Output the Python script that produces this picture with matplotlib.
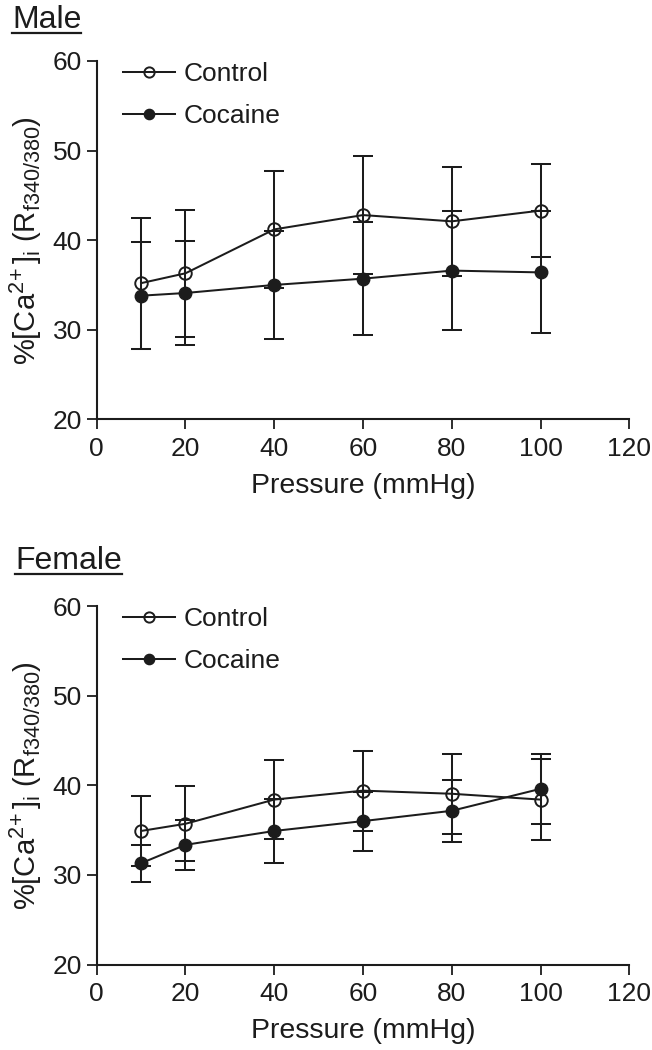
import matplotlib
matplotlib.use("Agg")
import matplotlib.pyplot as plt
from matplotlib.lines import Line2D
try:
    import matplotlib._mathtext as _mt
    _mt.SHRINK_FACTOR = 0.74
except Exception:
    pass

plt.rcParams['font.family'] = ['Liberation Sans', 'DejaVu Sans']
plt.rcParams['mathtext.fontset'] = 'custom'
plt.rcParams['mathtext.rm'] = 'Liberation Sans'
plt.rcParams['mathtext.it'] = 'Liberation Sans'
plt.rcParams['mathtext.default'] = 'regular'

INK = '#1c1c1c'

pressure = [10, 20, 40, 60, 80, 100]

male_control = [35.2, 36.3, 41.2, 42.8, 42.1, 43.3]
male_control_err = [7.3, 7.1, 6.5, 6.6, 6.1, 5.2]
male_cocaine = [33.8, 34.1, 35.0, 35.7, 36.6, 36.4]
male_cocaine_err = [5.95, 5.8, 6.0, 6.3, 6.6, 6.8]

female_control = [34.9, 35.7, 38.4, 39.4, 39.05, 38.4]
female_control_err = [3.9, 4.2, 4.4, 4.45, 4.45, 4.5]
female_cocaine = [31.3, 33.35, 34.9, 36.0, 37.15, 39.6]
female_cocaine_err = [2.05, 2.8, 3.6, 3.3, 3.45, 3.9]

xticks = [0, 20, 40, 60, 80, 100, 120]
yticks = [20, 30, 40, 50, 60]
ylabel = r'%[Ca$^{2\!+}$]$_{i}$ (R$_{f340/380}$)'
xlabel = 'Pressure (mmHg)'
panels = [
    ('Male', male_control, male_control_err, male_cocaine, male_cocaine_err),
    ('Female', female_control, female_control_err, female_cocaine, female_cocaine_err),
]

W, H = 652, 1050
fig = plt.figure(figsize=(W / 100, H / 100), dpi=100)

ax_rects = [
    [96.7 / W, 1 - 419.3 / H, 532.6 / W, 358.3 / H],
    [96.7 / W, 1 - 964.5 / H, 532.6 / W, 358.5 / H],
]
title_pos = [(12 / W, 1 - 28 / H), (15 / W, 1 - 569 / H)]

lw = 1.45
for (name, ctrl, ctrl_e, coc, coc_e), rect, tpos in zip(panels, ax_rects, title_pos):
    ax = fig.add_axes(rect)
    ax.errorbar(pressure, ctrl, yerr=ctrl_e, fmt='none', ecolor=INK,
                elinewidth=lw, capsize=7, capthick=lw, zorder=2, clip_on=False)
    ax.errorbar(pressure, coc, yerr=coc_e, fmt='none', ecolor=INK,
                elinewidth=lw, capsize=7, capthick=lw, zorder=2, clip_on=False)
    ax.plot(pressure, ctrl, '-o', color=INK, lw=lw, ms=9, mfc='none',
            mec=INK, mew=1.4, label='Control', zorder=3, clip_on=False)
    ax.plot(pressure, coc, '-o', color=INK, lw=lw, ms=9, mfc=INK,
            mec=INK, label='Cocaine', zorder=4, clip_on=False)
    ax.set_xlim(0, 120)
    ax.set_ylim(20, 60)
    ax.set_xticks(xticks)
    ax.set_yticks(yticks)
    for s in ['top', 'right']:
        ax.spines[s].set_visible(False)
    for s in ['left', 'bottom']:
        ax.spines[s].set_linewidth(1.5)
        ax.spines[s].set_color(INK)
    ax.tick_params(direction='out', length=7.5, width=1.3, colors=INK,
                   labelsize=19)
    ax.tick_params(axis='x', pad=5)
    ax.tick_params(axis='y', pad=3)
    ax.set_xlabel(xlabel, fontsize=20.5, color=INK, labelpad=9)
    ax.set_ylabel(ylabel, fontsize=21, color=INK, labelpad=6)
    leg = ax.legend(loc='upper left', bbox_to_anchor=(0.05, 0.997),
                    frameon=False, fontsize=19, handlelength=1.95,
                    handletextpad=0.35, labelspacing=0.68, markerscale=0.82,
                    borderaxespad=0, borderpad=0)
    for t in leg.get_texts():
        t.set_color(INK)
    fig.text(tpos[0], tpos[1], name, fontsize=23, color=INK,
             ha='left', va='baseline')

# underline titles
fig.canvas.draw()
renderer = fig.canvas.get_renderer()
for t in fig.texts:
    bb = t.get_window_extent(renderer)
    y = t.get_position()[1] * H - 5
    fig.add_artist(Line2D([bb.x0 / W, bb.x1 / W], [y / H, y / H],
                          transform=fig.transFigure, color=INK, lw=1.6))

fig.savefig('out.png', dpi=100)
